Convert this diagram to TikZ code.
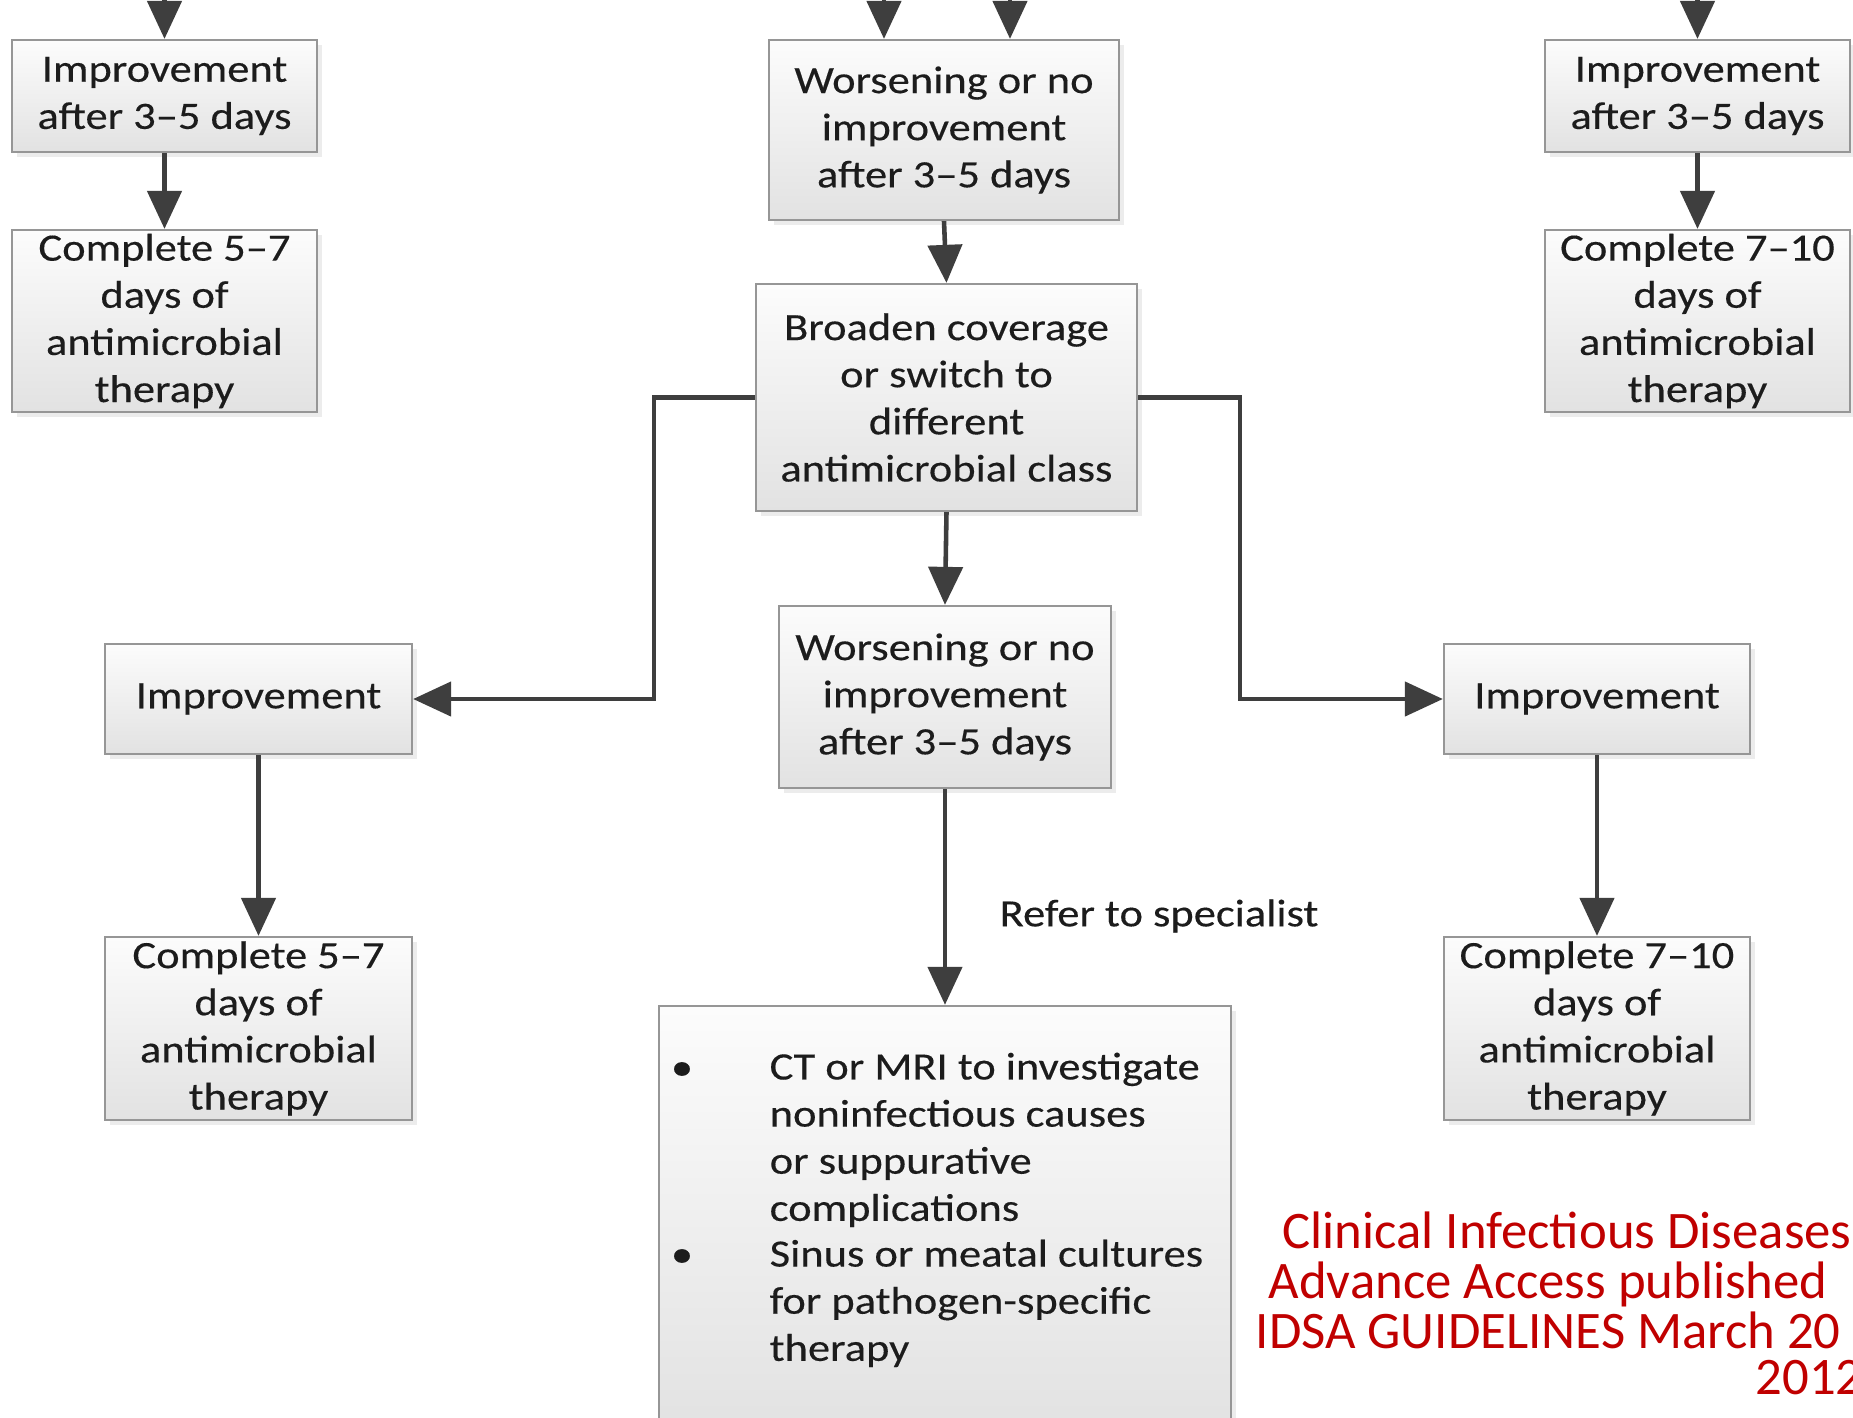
\documentclass[tikz,border=0pt]{standalone}
\usepackage{fontspec}
\setmainfont{Carlito}[FakeStretch=1.15, FakeBold=0.3]
\newfontfamily\notefamily{Carlito}
\usetikzlibrary{arrows.meta,shadows}
\definecolor{boxline}{RGB}{150,150,150}
\definecolor{boxtop}{RGB}{252,252,252}
\definecolor{boxbot}{RGB}{226,226,226}
\definecolor{ink}{RGB}{28,28,28}
\definecolor{arrowc}{RGB}{62,62,62}
\definecolor{notered}{RGB}{192,0,0}

\begin{document}
\begin{tikzpicture}[x=0.01cm,y=-0.01cm,
  box/.style={draw=boxline, line width=0.6pt, top color=boxtop, bottom color=boxbot,
    align=center, inner sep=0pt, text=ink, font=\fontsize{11}{13.4}\selectfont,
    drop shadow={opacity=0.15, shadow xshift=0.05cm, shadow yshift=-0.05cm}},
  small/.style={box, minimum width=3.05cm, minimum height=1.12cm},
  tall/.style={box, minimum width=3.05cm, minimum height=1.82cm},
  plain/.style={inner sep=0pt, text=ink, font=\fontsize{11}{13.4}\selectfont},
  note/.style={inner sep=0pt, text=notered, text height=9.5pt, text depth=3pt,
    font=\notefamily\fontsize{15}{14.2}\selectfont},
  arr/.style={draw=arrowc, line width=1.3pt, -{Triangle[length=0.38cm,width=0.34cm]}}]

\useasboundingbox (0,0) rectangle (1853,1417);
\fill[white] (0,0) rectangle (1853,1417);
\clip (0,0) rectangle (1853,1417);

% left column, upper part
\node[small] (a1) at (164.5,96) {Improvement\\after 3–5 days};
\node[tall]  (a2) at (164.5,321) {Complete 5–7\\days of\\antimicrobial\\therapy};

% right column, upper part
\node[small] (t1) at (1697.5,96) {Improvement\\after 3–5 days};
\node[tall]  (t2) at (1697.5,321) {Complete 7–10\\days of\\antimicrobial\\therapy};

% centre column
\node[box, minimum width=3.50cm, minimum height=1.80cm] (c1) at (944,130)
  {Worsening or no\\improvement\\after 3–5 days};
\node[box, minimum width=3.81cm, minimum height=2.27cm] (c2) at (946.5,397.5)
  {Broaden coverage\\or switch to\\different\\antimicrobial class};
\node[box, minimum width=3.32cm, minimum height=1.82cm] (c3) at (945,697)
  {Worsening or no\\improvement\\after 3–5 days};
\node[box, minimum width=5.72cm, minimum height=4.24cm] (c4) at (945,1218) {};

% second level, left and right
\node[box, minimum width=3.07cm, minimum height=1.10cm] (l1) at (258.5,699) {Improvement};
\node[box, minimum width=3.07cm, minimum height=1.83cm] (l2) at (258.5,1028.5)
  {Complete 5–7\\days of\\antimicrobial\\therapy};
\node[box, minimum width=3.06cm, minimum height=1.10cm] (r1) at (1597,699) {Improvement};
\node[box, minimum width=3.06cm, minimum height=1.83cm] (r2) at (1597,1028.5)
  {Complete 7–10\\days of\\antimicrobial\\therapy};

% bulleted list inside the lower centre box
\node[plain] (d1) at (682,1071) {\textbullet};
\node[plain] (d2) at (682,1258) {\textbullet};
\node[plain, anchor=north west, align=left] (i1) at (769,1052)
  {CT or MRI to investigate\\noninfectious causes\\or suppurative\\complications};
\node[plain, anchor=north west, align=left] (i2) at (769,1239)
  {Sinus or meatal cultures\\for pathogen-specific\\therapy};

% incoming arrows from above
\coordinate (ina) at (164.5,-10);
\coordinate (inb) at (884,-10);
\coordinate (inc) at (1010,-10);
\coordinate (ind) at (1697.5,-10);
\draw[arr] (ina) -- (a1.north);
\draw[arr] (inb) -- (inb |- c1.north);
\draw[arr] (inc) -- (inc |- c1.north);
\draw[arr] (ind) -- (t1.north);

% vertical flow
\draw[arr] (a1.south) -- (a2.north);
\draw[arr] (t1.south) -- (t2.north);
\draw[arr] (c1.south) -- (c2.north);
\draw[arr] (c2.south) -- (c3.north);
\draw[arr] (c3.south) -- (c4.north);
\draw[arr] (l1.south) -- (l2.north);
\draw[arr] (r1.south) -- (r2.north);

% side branches
\coordinate (lbend) at (654,397.5);
\coordinate (rbend) at (1240,397.5);
\draw[arr] (c2.west) -- (lbend) |- (l1.east);
\draw[arr] (c2.east) -- (rbend) |- (r1.west);

\node[plain, anchor=west] (ref) at (999,916) {Refer to specialist};

% source note
\node[note, anchor=west] (n1) at (1282,1237) {Clinical Infectious Diseases};
\node[note, anchor=west] (n2) at (1268,1287) {Advance Access published};
\node[note, anchor=west] (n3) at (1255,1337) {IDSA GUIDELINES March 20};
\node[note, anchor=west] (n4) at (1755,1383) {2012};
\end{tikzpicture}
\end{document}
